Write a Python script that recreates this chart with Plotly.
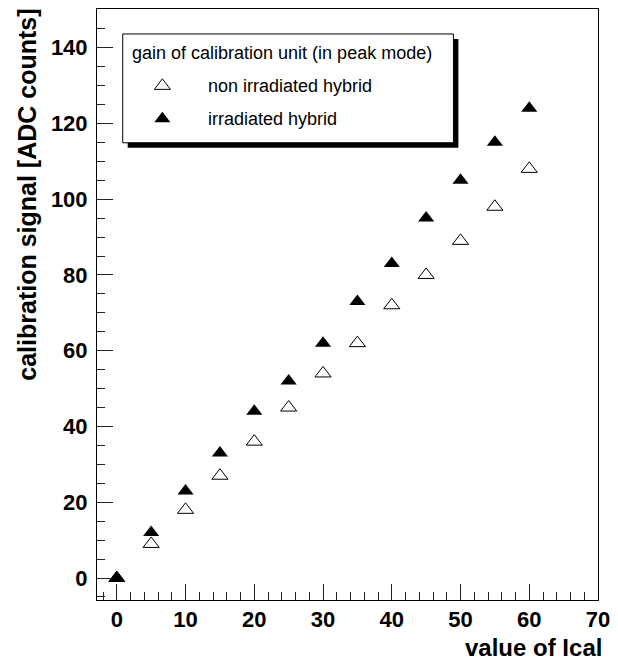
import plotly.graph_objects as go

# ---- data ----
ical = [0, 5, 10, 15, 20, 25, 30, 35, 40, 45, 50, 55, 60]
non_irradiated = [0, 9, 18, 27, 36, 45, 54, 62, 72, 80, 89, 98, 108]
irradiated = [0, 12, 23, 33, 44, 52, 62, 73, 83, 95, 105, 115, 124]

x_ticks = [0, 10, 20, 30, 40, 50, 60, 70]
y_ticks = [0, 20, 40, 60, 80, 100, 120, 140]

legend_header = "gain of calibration unit (in peak mode)"
legend_labels = ["non irradiated hybrid", "irradiated hybrid"]
x_title = "value of Ical"
y_title = "calibration signal [ADC counts]"

# ---- layout geometry (pixels) ----
W, H = 618, 665
PL, PR, PT, PB = 97, 603, 8, 600


def px(xp):
    return (xp - PL) / (PR - PL)


def py(yp):
    return (PB - yp) / (PB - PT)


FONT = "Liberation Sans, Arial, Helvetica, sans-serif"
MSIZE = 14

fig = go.Figure()

fig.add_trace(go.Scatter(
    x=ical, y=non_irradiated, mode="markers", showlegend=False,
    marker=dict(symbol="triangle-up-open", size=MSIZE, color="black",
                line=dict(color="black", width=1)),
    cliponaxis=False,
))
fig.add_trace(go.Scatter(
    x=ical, y=irradiated, mode="markers", showlegend=False,
    marker=dict(symbol="triangle-up", size=MSIZE, color="black",
                line=dict(color="black", width=0)),
    cliponaxis=False,
))

# legend keys on a pixel overlay axis
fig.add_trace(go.Scatter(
    x=[163], y=[85], xaxis="x2", yaxis="y2", mode="markers", showlegend=False,
    marker=dict(symbol="triangle-up-open", size=MSIZE, color="black",
                line=dict(color="black", width=1)),
    cliponaxis=False,
))
fig.add_trace(go.Scatter(
    x=[163], y=[118], xaxis="x2", yaxis="y2", mode="markers", showlegend=False,
    marker=dict(symbol="triangle-up", size=MSIZE, color="black",
                line=dict(color="black", width=0)),
    cliponaxis=False,
))

shapes = [
    # shadow
    dict(type="rect", xref="paper", yref="paper",
         x0=px(128), x1=px(462), y0=py(147), y1=py(38),
         fillcolor="black", line=dict(width=0), layer="between"),
    # box
    dict(type="rect", xref="paper", yref="paper",
         x0=px(123), x1=px(457), y0=py(142), y1=py(33),
         fillcolor="white", line=dict(color="black", width=1), layer="between"),
]

annotations = [
    dict(text=legend_header, xref="paper", yref="paper", x=px(130), y=py(52),
         xanchor="left", yanchor="middle", showarrow=False,
         font=dict(family=FONT, size=18, color="black")),
    dict(text=legend_labels[0], xref="paper", yref="paper", x=px(207), y=py(85),
         xanchor="left", yanchor="middle", showarrow=False,
         font=dict(family=FONT, size=18, color="black")),
    dict(text=legend_labels[1], xref="paper", yref="paper", x=px(207), y=py(118),
         xanchor="left", yanchor="middle", showarrow=False,
         font=dict(family=FONT, size=18, color="black")),
    dict(text=x_title, xref="paper", yref="paper", x=px(609), y=py(648),
         xanchor="right", yanchor="middle", showarrow=False,
         font=dict(family=FONT, size=24, color="black", weight="bold")),
    dict(text=y_title, xref="paper", yref="paper", x=px(26), y=py(6),
         xanchor="center", yanchor="top", showarrow=False, textangle=-90,
         font=dict(family=FONT, size=25, color="black", weight="bold")),
]

fig.update_layout(
    width=W, height=H,
    margin=dict(l=PL, r=W - PR, t=PT, b=H - PB, pad=0),
    paper_bgcolor="white", plot_bgcolor="white",
    font=dict(family=FONT, color="black"),
    xaxis=dict(
        range=[-2.88, 70], tickvals=x_ticks, ticktext=[str(v) for v in x_ticks],
        ticks="inside", ticklen=16, tickwidth=1, tickcolor="#222",
        minor=dict(dtick=2, tick0=0, ticks="inside", ticklen=8, tickwidth=1, tickcolor="#222"),
        showline=True, linecolor="black", linewidth=1, mirror=True,
        showgrid=False, zeroline=False,
        tickfont=dict(family=FONT, size=22, color="black", weight="bold"),
        ticklabelstandoff=0,
    ),
    yaxis=dict(
        range=[-5.8, 150.2], tickvals=y_ticks, ticktext=[str(v) for v in y_ticks],
        ticks="inside", ticklen=16, tickwidth=1, tickcolor="#222",
        minor=dict(dtick=5, tick0=0, ticks="inside", ticklen=8, tickwidth=1, tickcolor="#222"),
        showline=True, linecolor="black", linewidth=1, mirror=True,
        showgrid=False, zeroline=False,
        tickfont=dict(family=FONT, size=22, color="black", weight="bold"),
        ticklabelstandoff=4,
    ),
    xaxis2=dict(overlaying="x", range=[PL, PR], visible=False, fixedrange=True),
    yaxis2=dict(overlaying="y", range=[PB, PT], visible=False, fixedrange=True),
    shapes=shapes,
    annotations=annotations,
)

fig.write_html("out.html")
